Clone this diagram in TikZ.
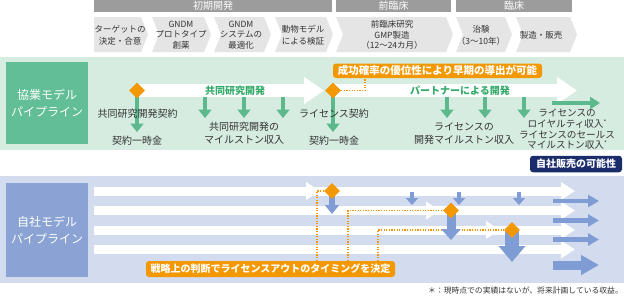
\documentclass[tikz,border=0pt]{standalone}
\usepackage{fontspec}
\setmainfont{Noto Sans CJK JP}
\usetikzlibrary{shapes.geometric,arrows.meta,calc}
\definecolor{hdrgray}{HTML}{9C9C9C}
\definecolor{chevgray}{HTML}{E5E5E5}
\definecolor{panelgreen}{HTML}{D6ECE1}
\definecolor{boxgreen}{HTML}{62BE96}
\definecolor{arrgreen}{HTML}{5CB98D}
\definecolor{txtgreen}{HTML}{35AB6B}
\definecolor{panelblue}{HTML}{D3DBEF}
\definecolor{boxblue}{HTML}{8AA3D4}
\definecolor{arrblue}{HTML}{7F9CD4}
\definecolor{myorange}{HTML}{F39800}
\definecolor{navyblue}{HTML}{1B2C6B}
\definecolor{txtdark}{HTML}{333333}
\newcommand\fsz[2]{\fontsize{#1}{#2}\selectfont}
\newcommand\mystar{\raisebox{3pt}{\fsz{6}{6}*}}
\newcommand\mychev[3]{\fill[chevgray] (#1,17) -- (#2-7,17) -- (#2,34.5) -- (#2-7,52) -- (#1,52) -- (#1+7*#3,34.5) -- cycle;}
\begin{document}
\begin{tikzpicture}[x=1pt,y=-1pt,
 hdr/.style={fill=hdrgray, text=white, minimum height=12pt, inner sep=0pt, font=\fsz{10}{10}},
 chevtxt/.style={text=txtdark, align=center, font=\fsz{8.5}{10.5}, inner sep=0pt},
 plabel/.style={text=white, align=center, font=\fsz{12}{16.5}, inner sep=0pt, minimum width=82pt},
 body/.style={text=txtdark, align=center, font=\fsz{10}{13}, inner sep=0pt},
 gtitle/.style={text=txtgreen, font=\bfseries\fsz{10}{10}, inner sep=0pt},
 dia/.style={shape=diamond, fill=myorange, minimum width=16pt, minimum height=16pt, inner sep=0pt},
 olabel/.style={fill=myorange, text=white, rounded corners=3pt, inner sep=0pt, font=\bfseries\fsz{10.5}{10.5}},
 wbig/.style={draw=white, line width=12.5pt, -{Triangle[length=20pt,width=26pt]}},
 wsm/.style={draw=white, line width=9pt, -{Triangle[length=14pt,width=17pt]}},
 garr/.style={draw=arrgreen, line width=4.8pt, -{Triangle[length=8.5pt,width=13pt]}},
 barr/.style={draw=arrblue, line width=4.8pt, -{Triangle[length=8pt,width=13pt]}},
 dots/.style={draw=myorange, line width=1.2pt, dash pattern=on 1.2pt off 1.4pt},
]
\useasboundingbox (0,0) rectangle (624,297);
\fill[white] (0,0) rectangle (624,297);

% header
\node[hdr, minimum width=238pt] (h1) at (213,6) {初期開発};
\node[hdr, minimum width=115pt] (h2) at (393.5,6) {前臨床};
\node[hdr, minimum width=116pt] (h3) at (514,6) {臨床};
\mychev{94}{148}{0}
\mychev{152}{211}{1}
\mychev{214}{271}{1}
\mychev{275}{333}{1}
\mychev{336}{453}{1}
\mychev{456}{512}{1}
\mychev{516}{577}{1}
\node[chevtxt, font=\fsz{8.5}{12}] (c1) at (120,35) {ターゲットの\\決定・合意};
\node[chevtxt] (c2) at (181,35) {GNDM\\プロトタイプ\\創薬};
\node[chevtxt] (c3) at (241,35) {GNDM\\システムの\\最適化};
\node[chevtxt, font=\fsz{8.5}{11.5}] (c4) at (303,35) {動物モデル\\による検証};
\node[chevtxt] (c5) at (392,35) {前臨床研究\\GMP製造\\（12〜24カ月）};
\node[chevtxt, font=\fsz{8.5}{12}] (c6) at (481,35) {治験\\（3〜10年）};
\node[chevtxt] (c7) at (541,35) {製造・販売};

% panels
\fill[panelgreen] (0,57) rectangle (624,150);
\fill[panelblue] (0,176) rectangle (624,283);
\node[plabel, fill=boxgreen, minimum height=82pt] (gl) at (47,103) {協業モデル\\パイプライン};
\node[plabel, fill=boxblue, minimum height=94pt] (bl) at (47,230) {自社モデル\\パイプライン};

% upper pipeline
\coordinate (p1) at (137,90.5);
\coordinate (p2) at (333,90.5);
\coordinate (t1) at (324,90.5);
\coordinate (t2) at (577,90.5);
\draw[wbig] (p1) -- (t1);
\draw[wbig] (p2) -- (t2);
\coordinate (p1e) at (137,132);
\coordinate (p2e) at (333,132);
\draw[garr] (p1) -- (p1e);
\draw[garr] (p2) -- (p2e);
\foreach \x [count=\i] in {205,244,283,447,485,524} {
  \coordinate (gs\i) at (\x,97);
  \coordinate (ge\i) at (\x,118);
  \draw[garr] (gs\i) -- (ge\i);
}
\coordinate (gr1) at (552,103);
\coordinate (gr2) at (600,103);
\draw[garr, line width=4.5pt, -{Triangle[length=10pt,width=12pt]}] (gr1) -- (gr2);

\node[gtitle] (tg1) at (235,91) {共同研究開発};
\node[gtitle] (tg2) at (460,91) {パートナーによる開発};
\node[body] (k1) at (137.5,114) {共同研究開発契約};
\node[body] (k2) at (137,141) {契約一時金};
\node[body] (k3) at (244,133.5) {共同研究開発の\\マイルストン収入};
\node[body] (k4) at (334,114) {ライセンス契約};
\node[body] (k5) at (334,141) {契約一時金};
\node[body, font=\fsz{10}{12.5}] (k6) at (464,133.5) {ライセンスの\\開発マイルストン収入};
\node[body, font=\fsz{9.6}{10.7}] (k7) at (567,129.5) {ライセンスの\\ロイヤルティ収入\mystar\\ライセンスのセールス\\マイルストン収入\mystar};

\node[dia] (d1) at (p1) {};
\node[dia] (d2) at (p2) {};
\node[olabel, minimum width=209pt, minimum height=14.5pt] (o1) at (437.5,70.75) {成功確率の優位性により早期の導出が可能};
\coordinate (ux) at (365,0);
\draw[dots] (d2.east) -| (ux |- o1.south);

% lower pipeline
\foreach \y [count=\i] in {191,210.5,230,249.5} {
  \coordinate (s\i) at (94,\y);
  \coordinate (e\i) at (575,\y);
  \draw[wsm] (s\i) -- (e\i);
}
\coordinate (hh1) at (320,191);
\coordinate (hh2) at (440,210.5);
\coordinate (hh3) at (500,230);
\foreach \i in {1,2,3} {\draw[wsm] ($(hh\i)+(-16,0)$) -- (hh\i);}
\coordinate (q1) at (332,191);
\coordinate (q2) at (451,210.5);
\coordinate (q3) at (512,230);

\node[olabel, minimum width=249pt, minimum height=16pt, font=\bfseries\fsz{10}{10}] (o2) at (270.5,269) {戦略上の判断でライセンスアウトのタイミングを決定};
\coordinate (x1) at (317,0);
\coordinate (x2) at (348,0);
\coordinate (x3) at (378,0);
\draw[dots] (x1 |- o2.north) |- (q1);
\draw[dots] (x2 |- o2.north) |- (q2);
\draw[dots] (x3 |- o2.north) |- (q3);

\coordinate (qe1) at (332,214);
\coordinate (qe2) at (451,240);
\coordinate (qe3) at (512,262);
\draw[barr, line width=6pt, -{Triangle[length=9pt,width=14pt]}] (q1) -- (qe1);
\draw[barr, line width=9pt, -{Triangle[length=11pt,width=19pt]}] (q2) -- (qe2);
\draw[barr, line width=14pt, -{Triangle[length=16pt,width=26pt]}] (q3) -- (qe3);
\foreach \x [count=\i] in {412,459,519} {
  \coordinate (bs\i) at (\x,192);
  \coordinate (be\i) at (\x,205);
  \draw[barr, -{Triangle[length=7pt,width=12pt]}] (bs\i) -- (be\i);
}
\foreach \y [count=\i] in {201,220.5,239.5} {
  \coordinate (rs\i) at (553,\y);
  \coordinate (re\i) at (599,\y);
  \draw[barr, line width=4.5pt, -{Triangle[length=11pt,width=12pt]}] (rs\i) -- (re\i);
}
\coordinate (rs4) at (553,265);
\coordinate (re4) at (599,265);
\draw[barr, line width=9pt, -{Triangle[length=18pt,width=19pt]}] (rs4) -- (re4);

\node[dia] (d3) at (q1) {};
\node[dia] (d4) at (q2) {};
\node[dia] (d5) at (q3) {};

\node[olabel, fill=navyblue, minimum width=92pt, minimum height=16.5pt, font=\bfseries\fsz{10}{10}] (nv) at (576,164) {自社販売の可能性};

\node[text=txtdark, font=\fsz{7.8}{7.8}, anchor=east, inner sep=0pt] (fn) at (623,291) {＊：現時点での実績はないが、将来計画している収益。};
\end{tikzpicture}
\end{document}
